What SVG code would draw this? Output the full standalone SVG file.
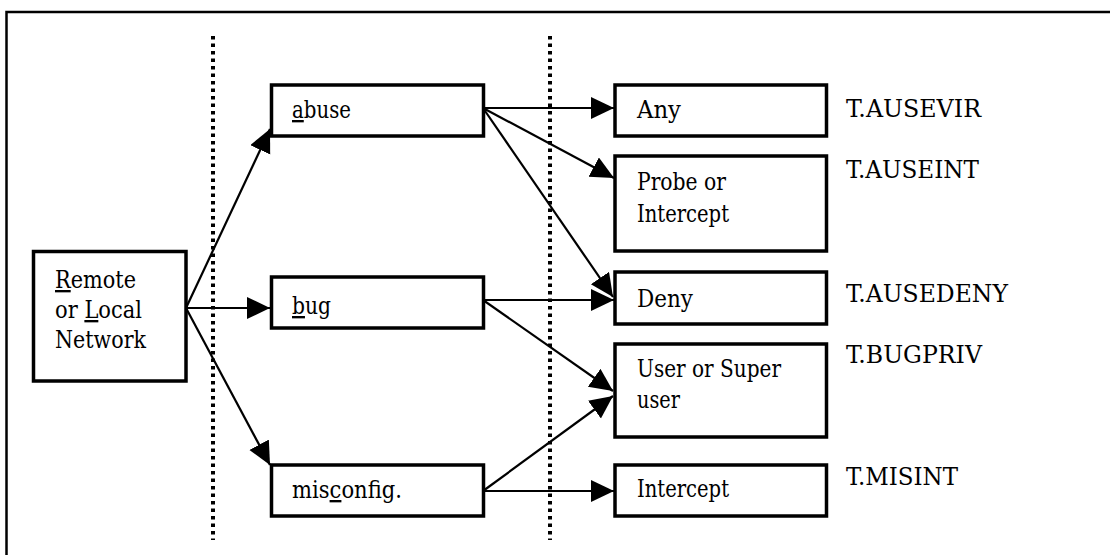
<svg xmlns="http://www.w3.org/2000/svg" width="1110" height="555" viewBox="0 0 1110 555">
<style>
.box{fill:#fff;stroke:#000;stroke-width:3.5}
text{font-family:'DejaVu Serif','Liberation Serif',serif;font-size:23.5px;fill:#000}
.u{text-decoration:underline}
.c{stroke:#000;stroke-width:2.2;fill:none;marker-end:url(#ah)}
.dot{stroke:#000;stroke-width:4;stroke-dasharray:3.5 4}
</style>
<defs>
<marker id="ah" markerUnits="userSpaceOnUse" markerWidth="24" markerHeight="24" refX="23" refY="11" orient="auto">
<path d="M0,0 L23,11 L0,22 z" fill="#000"/>
</marker>
</defs>
<rect width="1110" height="555" fill="#fff"/>
<g id="frame">
<path d="M6.5,555 V12 H1110" stroke="#000" stroke-width="2.5" fill="none"/>
</g>
<g id="dividers">
<line class="dot" x1="213" y1="36" x2="213" y2="540"/>
<line class="dot" x1="550" y1="36" x2="550" y2="540"/>
</g>
<g id="connectors">
<line class="c" x1="186" y1="308" x2="270" y2="129"/>
<line class="c" x1="186" y1="308" x2="270" y2="308"/>
<line class="c" x1="186" y1="308" x2="270" y2="465"/>
<line class="c" x1="483" y1="108" x2="614" y2="108"/>
<line class="c" x1="483" y1="108" x2="614" y2="178"/>
<line class="c" x1="483" y1="108" x2="613" y2="297"/>
<line class="c" x1="483" y1="300" x2="614" y2="300"/>
<line class="c" x1="483" y1="300" x2="613" y2="391"/>
<line class="c" x1="483" y1="491" x2="613" y2="396"/>
<line class="c" x1="483" y1="491" x2="614" y2="491"/>
</g>
<g id="remote">
<rect class="box" x="33.5" y="251.5" width="152.5" height="129.5"/>
<text x="55" y="288" textLength="81" lengthAdjust="spacingAndGlyphs"><tspan class="u">R</tspan>emote</text>
<text x="55" y="318" textLength="87" lengthAdjust="spacingAndGlyphs">or <tspan class="u">L</tspan>ocal</text>
<text x="55" y="348" textLength="91" lengthAdjust="spacingAndGlyphs">Network</text>
</g>
<g id="abuse">
<rect class="box" x="271.5" y="85" width="212" height="51"/>
<text x="292" y="118" textLength="59" lengthAdjust="spacingAndGlyphs"><tspan class="u">a</tspan>buse</text>
</g>
<g id="bug">
<rect class="box" x="271.5" y="277" width="212" height="51"/>
<text x="292" y="314" textLength="39" lengthAdjust="spacingAndGlyphs"><tspan class="u">b</tspan>ug</text>
</g>
<g id="misconfig">
<rect class="box" x="271.5" y="465" width="212" height="51"/>
<text x="292" y="498" textLength="110" lengthAdjust="spacingAndGlyphs">mis<tspan class="u">c</tspan>onfig.</text>
</g>
<g id="any">
<rect class="box" x="615" y="85" width="211.5" height="51"/>
<text x="637" y="118" textLength="44" lengthAdjust="spacingAndGlyphs">Any</text>
</g>
<g id="probe">
<rect class="box" x="615" y="156" width="211.5" height="95"/>
<text x="637" y="190" textLength="89" lengthAdjust="spacingAndGlyphs">Probe or</text>
<text x="637" y="222" textLength="92" lengthAdjust="spacingAndGlyphs">Intercept</text>
</g>
<g id="deny">
<rect class="box" x="615" y="272" width="211.5" height="52"/>
<text x="637" y="307" textLength="56" lengthAdjust="spacingAndGlyphs">Deny</text>
</g>
<g id="user">
<rect class="box" x="615" y="344" width="211.5" height="93"/>
<text x="637" y="377" textLength="144" lengthAdjust="spacingAndGlyphs">User or Super</text>
<text x="637" y="408" textLength="43" lengthAdjust="spacingAndGlyphs">user</text>
</g>
<g id="intercept">
<rect class="box" x="615" y="465" width="211.5" height="51"/>
<text x="637" y="497" textLength="92" lengthAdjust="spacingAndGlyphs">Intercept</text>
</g>
<g id="labels">
<text x="846" y="117" textLength="135" lengthAdjust="spacingAndGlyphs">T.AUSEVIR</text>
<text x="846" y="178" textLength="133" lengthAdjust="spacingAndGlyphs">T.AUSEINT</text>
<text x="846" y="302" textLength="162" lengthAdjust="spacingAndGlyphs">T.AUSEDENY</text>
<text x="846" y="363" textLength="136" lengthAdjust="spacingAndGlyphs">T.BUGPRIV</text>
<text x="846" y="485" textLength="112" lengthAdjust="spacingAndGlyphs">T.MISINT</text>
</g>
</svg>
